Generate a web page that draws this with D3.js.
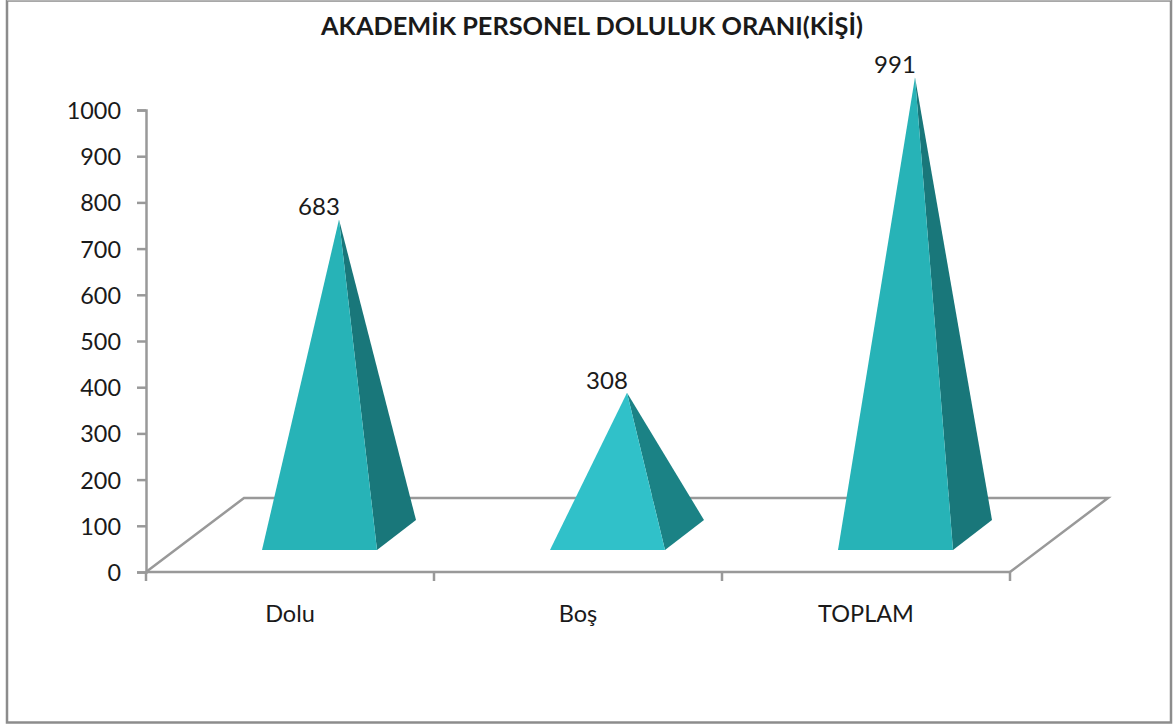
<!DOCTYPE html>
<html><head><meta charset="utf-8">
<script src="https://cdn.jsdelivr.net/npm/d3@7"></script>
<style>html,body{margin:0;background:#fff}svg{display:block}text{font-family:Lato,"Open Sans",sans-serif;fill:#1a1a1a}</style>
</head><body><div id="chart"></div>
<script>
const title = "AKADEMİK PERSONEL DOLULUK ORANI(KİŞİ)";
const categories = ["Dolu", "Boş", "TOPLAM"];
const values = [683, 308, 991];
const yTicks = [0,100,200,300,400,500,600,700,800,900,1000];
const frontColors = ["#27b3b7", "#30c1c9", "#27b3b7"];
const sideColors = ["#19777a", "#1b8285", "#19777a"];

const W = 1175, H = 726;
const svg = d3.select("#chart").append("svg").attr("width", W).attr("height", H);
const x = d3.scaleBand().domain(categories).range([146, 1010]);
const y = d3.scaleLinear().domain([0, 1000]).range([572, 110]);
const depth = {dx: 98, dy: -74};
const grey = "#999";

svg.append("rect").attr("x", 7).attr("y", 0.5).attr("width", 1164).attr("height", 722)
  .attr("fill", "#fff").attr("stroke", "#8c8c8c").attr("stroke-width", 2.5);
svg.append("line").attr("x1",7).attr("x2",1171).attr("y1",0.5).attr("y2",0.5).attr("stroke","#b5b5b5");

svg.append("path")
  .attr("d", d3.line()([[146,572],[146+depth.dx,572+depth.dy],[1010+depth.dx,572+depth.dy],[1010,572]]))
  .attr("fill", "none").attr("stroke", grey).attr("stroke-width", 2.5);

const yAxis = svg.append("g").attr("transform", "translate(146,0)")
  .call(d3.axisLeft(y).tickValues(yTicks).tickSize(9).tickPadding(16).tickFormat(d3.format("d")));
const xAxis = svg.append("g").attr("transform", "translate(0,572)")
  .call(d3.axisBottom(x).tickSize(0).tickPadding(33));
xAxis.selectAll(".tick").attr("transform", d => `translate(${x(d) + x.bandwidth()/2},0)`);
const xEdges = d3.range(categories.length + 1).map(i => x.range()[0] + i * x.step());
svg.append("g").selectAll("line").data(xEdges).join("line")
  .attr("x1", d => d).attr("x2", d => d).attr("y1", 572).attr("y2", 581)
  .attr("stroke", grey).attr("stroke-width", 2.5);
[yAxis, xAxis].forEach(a => {
  a.selectAll("path,line").attr("stroke", grey).attr("stroke-width", 2.5);
  a.selectAll("text").style("font-size", "23.4px").attr("font-family", null);
});
xAxis.select(".domain").attr("d", "M146,0H1010");
xAxis.selectAll("text").style("font-size", "23.5px");
yAxis.selectAll("text").attr("dy", "0.36em");

const halfW = 57.5, halfD = {dx: 19.5, dy: -15};
const pyr = svg.append("g").selectAll("g").data(categories).join("g");
const geom = (c, i) => {
  const cx = x(c) + x.bandwidth()/2 + depth.dx/2, cy = depth.dy/2;
  const apex = [cx, y(values[i]) + cy];
  const base = y(0) + cy;
  const fl = [cx - halfW - halfD.dx, base - halfD.dy];
  const fr = [cx + halfW - halfD.dx, base - halfD.dy];
  const br = [cx + halfW + halfD.dx, base + halfD.dy];
  return {apex, fl, fr, br};
};
pyr.append("path").attr("fill", (c,i) => sideColors[i])
  .attr("d", (c,i) => { const g = geom(c,i); return d3.line()([g.apex, g.fr, g.br]) + "Z"; });
pyr.append("path").attr("fill", (c,i) => frontColors[i])
  .attr("d", (c,i) => { const g = geom(c,i); return d3.line()([g.apex, g.fl, g.fr]) + "Z"; });
pyr.append("text").attr("text-anchor", "middle").style("font-size", "24px")
  .attr("x", (c,i) => geom(c,i).apex[0] - 20)
  .attr("y", (c,i) => geom(c,i).apex[1] - 4)
  .text((c,i) => values[i]);

svg.append("text").attr("x", 592).attr("y", 35).attr("text-anchor", "middle")
  .style("font-size", "25.3px").style("font-weight", 700).text(title);
</script></body></html>
